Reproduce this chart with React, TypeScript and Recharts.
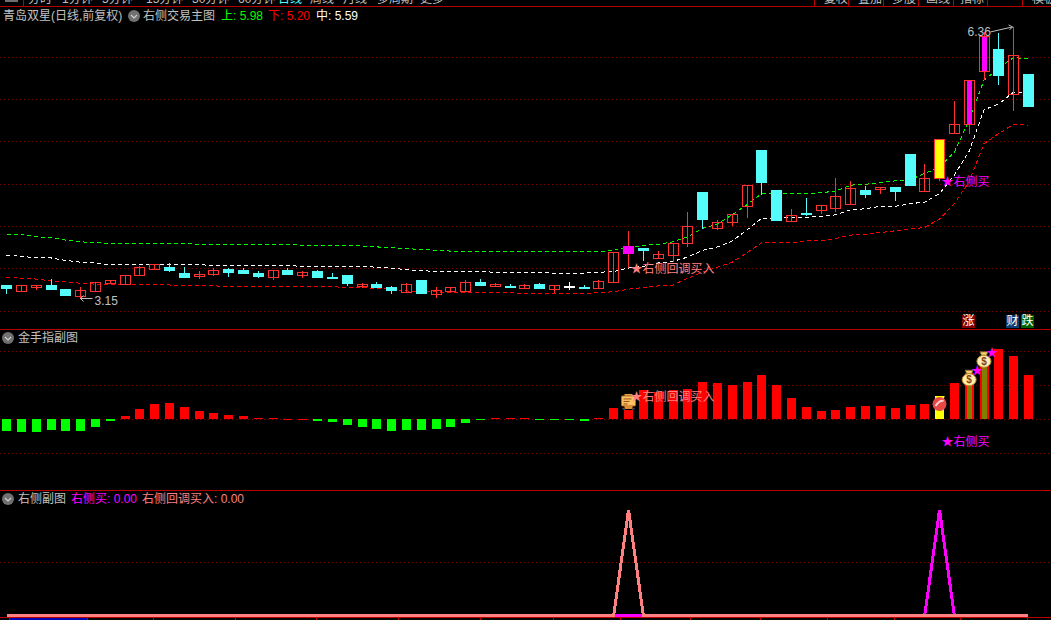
import React from 'react';
import { ComposedChart, Bar, Line, XAxis, YAxis, CartesianGrid, ReferenceDot } from 'recharts';

const opens = [3.31,3.24,3.29,3.31,3.26,3.18,3.24,3.33,3.32,3.43,3.50,3.52,3.45,3.42,3.44,3.50,3.49,3.45,3.40,3.49,3.43,3.47,3.40,3.43,3.30,3.32,3.29,3.23,3.37,3.20,3.24,3.24,3.35,3.30,3.30,3.27,3.32,3.26,3.30,3.29,3.27,3.35,3.69,3.75,3.63,3.66,3.81,4.41,3.98,4.05,4.24,4.91,4.43,4.07,4.16,4.20,4.22,4.27,4.43,4.44,4.47,4.86,4.42,4.57,5.11,5.21,5.84,6.10,5.57,5.80];
const highs = [3.31,3.31,3.31,3.38,3.26,3.29,3.35,3.37,3.43,3.53,3.56,3.57,3.52,3.47,3.51,3.51,3.51,3.47,3.49,3.51,3.47,3.49,3.45,3.43,3.33,3.35,3.30,3.33,3.37,3.29,3.29,3.37,3.38,3.33,3.32,3.32,3.33,3.31,3.35,3.31,3.37,3.70,3.95,3.75,3.71,3.81,4.17,4.41,4.08,4.15,4.49,4.91,4.43,4.21,4.34,4.26,4.57,4.54,4.48,4.47,4.47,4.86,4.74,5.04,5.48,5.73,6.30,6.29,6.36,5.80];
const lows = [3.20,3.24,3.25,3.26,3.18,3.15,3.24,3.32,3.31,3.42,3.50,3.46,3.39,3.38,3.42,3.40,3.44,3.39,3.37,3.44,3.39,3.40,3.38,3.30,3.27,3.27,3.20,3.23,3.20,3.16,3.23,3.24,3.31,3.29,3.27,3.27,3.27,3.21,3.25,3.26,3.27,3.35,3.51,3.59,3.63,3.58,3.76,3.97,3.96,4.01,4.10,4.37,4.08,4.05,4.13,4.15,4.17,4.27,4.34,4.39,4.30,4.49,4.42,4.54,5.11,5.09,5.73,5.67,5.37,5.43];
const closes = [3.27,3.31,3.31,3.26,3.19,3.25,3.35,3.37,3.43,3.52,3.56,3.49,3.40,3.44,3.49,3.46,3.45,3.42,3.49,3.44,3.46,3.40,3.39,3.33,3.32,3.29,3.25,3.32,3.21,3.25,3.29,3.35,3.31,3.32,3.29,3.31,3.27,3.31,3.30,3.28,3.36,3.70,3.77,3.72,3.68,3.81,4.01,4.09,4.05,4.15,4.49,4.53,4.08,4.14,4.15,4.26,4.36,4.46,4.39,4.47,4.42,4.49,4.57,5.04,5.21,5.73,6.25,5.79,6.03,5.43];
const upperBand = [3.91,3.91,3.88,3.87,3.84,3.82,3.81,3.80,3.80,3.80,3.80,3.80,3.80,3.79,3.79,3.79,3.79,3.79,3.79,3.79,3.78,3.78,3.78,3.78,3.77,3.76,3.75,3.74,3.73,3.72,3.71,3.71,3.71,3.70,3.70,3.70,3.70,3.70,3.70,3.70,3.70,3.72,3.75,3.78,3.79,3.82,3.88,3.98,4.03,4.14,4.26,4.39,4.39,4.39,4.39,4.40,4.42,4.49,4.50,4.52,4.54,4.55,4.63,4.70,4.88,5.26,5.73,5.87,6.00,5.98];
const midBand = [3.66,3.65,3.63,3.63,3.60,3.58,3.57,3.55,3.55,3.55,3.55,3.55,3.55,3.55,3.54,3.54,3.54,3.54,3.54,3.54,3.53,3.53,3.53,3.53,3.53,3.52,3.51,3.49,3.48,3.47,3.47,3.47,3.47,3.46,3.46,3.46,3.46,3.45,3.45,3.45,3.46,3.47,3.51,3.53,3.57,3.59,3.64,3.72,3.76,3.83,3.96,4.10,4.10,4.11,4.11,4.12,4.14,4.20,4.21,4.24,4.24,4.27,4.29,4.39,4.61,4.89,5.38,5.45,5.59,5.59];
const lowerBand = [3.40,3.39,3.38,3.36,3.35,3.33,3.32,3.31,3.31,3.31,3.31,3.31,3.30,3.30,3.30,3.29,3.29,3.29,3.29,3.29,3.29,3.29,3.29,3.28,3.28,3.27,3.26,3.24,3.23,3.23,3.22,3.22,3.22,3.22,3.22,3.21,3.21,3.21,3.21,3.21,3.22,3.23,3.26,3.28,3.30,3.31,3.39,3.46,3.52,3.58,3.69,3.81,3.81,3.81,3.83,3.83,3.86,3.90,3.91,3.93,3.95,3.97,3.99,4.09,4.27,4.53,4.98,5.10,5.21,5.20];
const fingerValues = [-0.34,-0.37,-0.37,-0.31,-0.34,-0.34,-0.23,-0.05,0.10,0.30,0.45,0.48,0.36,0.25,0.19,0.13,0.10,0.04,0.04,0.01,0.01,-0.05,-0.08,-0.17,-0.23,-0.28,-0.34,-0.31,-0.31,-0.28,-0.23,-0.11,-0.02,0.04,0.04,0.04,-0.02,-0.02,-0.02,-0.05,0.04,0.33,0.28,0.86,0.80,0.86,0.89,1.10,1.07,1.01,1.10,1.30,1.01,0.63,0.36,0.25,0.27,0.36,0.39,0.39,0.33,0.42,0.45,0.69,1.07,1.35,1.65,2.07,1.86,1.30];
const rightBuy = [0,0,0,0,0,0,0,0,0,0,0,0,0,0,0,0,0,0,0,0,0,0,0,0,0,0,0,0,0,0,0,0,0,0,0,0,0,0,0,0,0,0,0,0,0,0,0,0,0,0,0,0,0,0,0,0,0,0,0,0,0,0,0,1,0,0,0,0,0,0];
const pullbackBuy = [0,0,0,0,0,0,0,0,0,0,0,0,0,0,0,0,0,0,0,0,0,0,0,0,0,0,0,0,0,0,0,0,0,0,0,0,0,0,0,0,0,0,1,0,0,0,0,0,0,0,0,0,0,0,0,0,0,0,0,0,0,0,0,0,0,0,0,0,0,0];
const magentaBodies = [42];
const yellowBodies = [63];
const coreBodies = [65, 66];
const oliveBars = [65, 66];
const yellowBars = [63];
const topTabs = [['分时', 28], ['1分钟', 62], ['5分钟', 102], ['15分钟', 146], ['30分钟', 192], ['60分钟', 238], ['日线', 278], ['周线', 310], ['月线', 343], ['多周期', 377], ['更多', 420]];
const topRightTabs = [['复权', 824], ['叠加', 858], ['多股', 892], ['画线', 926], ['指标', 960], ['模板', 1032]];
const topSeparators = [814, 848, 883, 918, 953, 987, 1022];
const bottomTicks = [9, 87, 153, 235, 316, 398, 480, 553, 620, 690, 760, 827, 894, 960, 1027];

const priceGrid = [3, 3.5, 4, 4.5, 5, 5.5, 6];
const fingerGrid = [-1, 0, 1, 2];
const signalGrid = [0.5];

const rows = closes.map((c, i) => ({
  i,
  range: [lows[i], highs[i]],
  open: opens[i],
  close: c,
  upper: upperBand[i],
  middle: midBand[i],
  lower: lowerBand[i],
  finger: fingerValues[i],
  buy: rightBuy[i],
  pullback: pullbackBuy[i],
}));

const W = 1051;
const XDOMAIN: [number, number] = [-0.439, 70.527];
const CJK = '"Liberation Sans","Noto Sans CJK SC",sans-serif';
const RED = '#ff3232';
const CYAN = '#54fcfc';
const PINK = '#ff8080';
const MAGENTA = '#ff00ff';
const GRID = '#780000';
const BORDER = '#b80000';

function Candle(props: any) {
  const { x, y, width, height, payload } = props;
  const hi = payload.range[1];
  const lo = payload.range[0];
  const k = Math.abs(height) / (hi - lo);
  const py = (p: number) => y + (hi - p) * k;
  const cx = Math.floor(x + width / 2) + 0.5;
  const top = Math.round(py(Math.max(payload.open, payload.close))) + 0.5;
  const bot = Math.round(py(Math.min(payload.open, payload.close))) + 0.5;
  const wt = Math.round(py(hi));
  const wb = Math.round(py(lo));
  const up = payload.close > payload.open;
  const flat = payload.close === payload.open;
  const isMagenta = magentaBodies.includes(payload.i);
  const isYellow = yellowBodies.includes(payload.i);
  const color = flat ? '#ffffff' : up || isMagenta ? RED : CYAN;
  const bodyH = Math.max(bot - top, 0.5);
  let fill = 'none';
  let stroke = color;
  if (!up) fill = color;
  if (isYellow) fill = '#ffff00';
  if (isMagenta) { fill = MAGENTA; stroke = MAGENTA; }
  return (
    <g shapeRendering="crispEdges">
      <line x1={cx} x2={cx} y1={wt} y2={wb} stroke={color} strokeWidth={1} />
      <rect x={cx - 5} y={top} width={10} height={bodyH} fill={up && !isMagenta && !isYellow ? '#000000' : fill} fillOpacity={up && !isMagenta && !isYellow ? 0 : 1} stroke={stroke} />
      {coreBodies.includes(payload.i) && <rect x={cx - 2.5} y={top + 0.5} width={5} height={Math.max(bot - top - 1, 1)} fill={MAGENTA} />}
    </g>
  );
}

function FingerBar(props: any) {
  const { x, y, width, height, payload } = props;
  const v = payload.finger;
  const col = v >= 0 ? '#ff0000' : '#00ff00';
  const h = Math.abs(height);
  const ty = height < 0 ? y + height : y;
  const left = Math.round(x);
  if (yellowBars.includes(payload.i)) return <rect x={left} y={ty} width={width} height={h} fill="#ffff00" shapeRendering="crispEdges" />;
  if (oliveBars.includes(payload.i)) {
    return (
      <g shapeRendering="crispEdges">
        <rect x={left} y={ty} width={width} height={h} fill="#ff0000" />
        <rect x={left + 2} y={ty} width={width - 4} height={h} fill="#808000" />
      </g>
    );
  }
  return <rect x={left} y={ty} width={width} height={Math.max(h, 1)} fill={col} shapeRendering="crispEdges" />;
}

const Label = (text: string, color: string, dx: number, size = 12) => (p: any) => (
  <text x={p.cx + dx} y={p.cy + 5} fill={color} fontSize={size} fontFamily={CJK}>{text}</text>
);

const HighMark = (p: any) => (
  <g>
    <text x={p.cx - 46} y={p.cy + 9} fill="#c0c0c0" fontSize={12} fontFamily={CJK}>6.36</text>
    <polyline points={`${p.cx - 23},${p.cy + 5} ${p.cx - 1},${p.cy} ${p.cx - 5},${p.cy - 2}`} fill="none" stroke="#c0c0c0" />
    <line x1={p.cx - 1} y1={p.cy} x2={p.cx - 4} y2={p.cy + 3} stroke="#c0c0c0" />
  </g>
);
const LowMark = (p: any) => (
  <g>
    <line x1={p.cx} x2={p.cx + 12} y1={p.cy} y2={p.cy} stroke="#c0c0c0" />
    <polyline points={`${p.cx + 3},${p.cy - 3} ${p.cx},${p.cy} ${p.cx + 3},${p.cy + 3}`} fill="none" stroke="#c0c0c0" />
    <text x={p.cx + 14} y={p.cy + 6} fill="#c0c0c0" fontSize={12} fontFamily={CJK}>3.15</text>
  </g>
);
const NoteIcon = (p: any) => {
  const x = p.cx - 7;
  const y = p.cy - 7;
  return (
    <g>
      <rect x={x + 3} y={y - 1} width={8} height={2} fill="#e0a040" />
      <rect x={x} y={y + 1} width={14} height={10} rx={1} fill="#ffc060" stroke="#b06820" />
      <path d={`M${x + 2} ${y + 4}h8M${x + 2} ${y + 6.5}h6M${x + 2} ${y + 9}h4`} stroke="#905020" strokeWidth={1} />
      <rect x={x + 3} y={y + 11} width={8} height={3} fill="#e09030" />
      <path d={`M${x + 1} ${y + 13}l2 2M${x + 13} ${y + 13}l-2 2`} stroke="#4090e0" />
    </g>
  );
};
const BallIcon = (p: any) => (
  <g>
    <rect x={p.cx - 4} y={p.cy - 8} width={9} height={1.5} fill="#ffff00" />
    <circle cx={p.cx} cy={p.cy} r={7} fill="#e84848" />
    <path d={`M${p.cx - 4} ${p.cy + 2}Q${p.cx} ${p.cy - 4} ${p.cx + 4} ${p.cy - 3}`} stroke="#ffd0d0" strokeWidth={2} fill="none" />
  </g>
);
const BagIcon = (p: any) => (
  <g>
    <path d={`M${p.cx - 4} ${p.cy - 8}h8l-1.5 3.5h-5z`} fill="#f0d070" stroke="#806020" strokeWidth={0.8} />
    <ellipse cx={p.cx} cy={p.cy + 1.5} rx={7} ry={6} fill="#ffeeb0" stroke="#c09030" />
    <text x={p.cx} y={p.cy + 5} textAnchor="middle" fill="#884010" fontSize={10} fontWeight="bold" fontFamily={CJK}>$</text>
  </g>
);

function Circle({ x, y }: { x: number; y: number }) {
  return (
    <svg style={{ position: 'absolute', left: x - 6, top: y - 6 }} width={12} height={12}>
      <circle cx={6} cy={6} r={6} fill="#707070" />
      <polyline points="3,5 6,8 9,5" fill="none" stroke="#d0d0d0" strokeWidth={1.2} />
    </svg>
  );
}

function T({ x, y, c, children }: { x: number; y: number; c: string; children: React.ReactNode }) {
  return (
    <span style={{ position: 'absolute', left: x, top: y - 8, height: 16, lineHeight: '16px', fontSize: 12, color: c, fontFamily: CJK, whiteSpace: 'pre' }}>
      {children}
    </span>
  );
}

function Btn({ x, bg, text }: { x: number; bg: string; text: string }) {
  return (
    <span style={{ position: 'absolute', left: x, top: 315, width: 13, height: 13, background: bg, color: '#fff', fontSize: 12, lineHeight: '13px', textAlign: 'center', fontFamily: CJK }}>{text}</span>
  );
}

function Panel({ top, height, domain, grid, children }: any) {
  return (
    <div style={{ position: 'absolute', left: 0, top }}>
      <ComposedChart width={W} height={height} data={rows} margin={{ top: 0, right: 0, bottom: 0, left: 0 }} barGap={0}>
        <XAxis dataKey="i" type="number" domain={XDOMAIN} hide allowDataOverflow />
        <YAxis type="number" domain={domain} hide allowDataOverflow />
        <CartesianGrid vertical={false} horizontal horizontalValues={grid} stroke={GRID} strokeDasharray="1 3" shapeRendering="crispEdges" />
        {children}
      </ComposedChart>
    </div>
  );
}

export default function App() {
  const lineProps = { type: 'linear' as const, dot: false, isAnimationActive: false, strokeWidth: 1, strokeDasharray: '4 3', activeDot: false, zIndex: 200, shapeRendering: 'crispEdges' };
  return (
    <div style={{ position: 'relative', width: W, height: 620, background: '#000', overflow: 'hidden' }}>
      <style>{'html,body{margin:0;padding:0;background:#000;overflow:hidden}'}</style>

      <Panel top={0} height={330} domain={[2.778, 6.678]} grid={priceGrid}>
        <Line {...lineProps} dataKey="upper" stroke="#00ff00" />
        <Line {...lineProps} dataKey="middle" stroke="#ffffff" />
        <Line {...lineProps} dataKey="lower" stroke="#ff0000" />
        <Bar dataKey="range" barSize={11} shape={Candle} isAnimationActive={false} zIndex={300} />
        <ReferenceDot x={42} y={3.51} r={0} shape={Label('★右侧回调买入', PINK, 2)} ifOverflow="visible" zIndex={500} />
        <ReferenceDot x={63} y={4.54} r={0} shape={Label('★右侧买', MAGENTA, 2)} ifOverflow="visible" zIndex={500} />
        <ReferenceDot x={68} y={6.36} r={0} shape={HighMark} ifOverflow="visible" zIndex={500} />
        <ReferenceDot x={5} y={3.15} r={0} shape={LowMark} ifOverflow="visible" zIndex={500} />
      </Panel>

      <Panel top={330} height={160} domain={[-2.079, 2.626]} grid={fingerGrid}>
        <Bar dataKey="finger" barSize={9} shape={FingerBar} isAnimationActive={false} zIndex={300} />
        <ReferenceDot x={42} y={0.51} r={0} shape={NoteIcon} ifOverflow="visible" zIndex={500} />
        <ReferenceDot x={63} y={0.45} r={0} shape={BallIcon} ifOverflow="visible" zIndex={500} />
        <ReferenceDot x={65} y={1.21} r={0} shape={BagIcon} ifOverflow="visible" zIndex={500} />
        <ReferenceDot x={66} y={1.75} r={0} shape={BagIcon} ifOverflow="visible" zIndex={500} />
        <ReferenceDot x={65} y={1.46} r={0} shape={Label('★', MAGENTA, 2)} ifOverflow="visible" zIndex={500} />
        <ReferenceDot x={66} y={1.98} r={0} shape={Label('★', MAGENTA, 2)} ifOverflow="visible" zIndex={500} />
        <ReferenceDot x={42} y={0.685} r={0} shape={Label('★右侧回调买入', PINK, 2)} ifOverflow="visible" zIndex={510} />
        <ReferenceDot x={63} y={-0.64} r={0} shape={Label('★右侧买', MAGENTA, 2)} ifOverflow="visible" zIndex={510} />
      </Panel>

      <Panel top={490} height={130} domain={[-0.0445, 1.1885]} grid={signalGrid}>
        <Line dataKey="buy" type="linear" stroke={MAGENTA} strokeWidth={3} dot={false} activeDot={false} isAnimationActive={false} shapeRendering="crispEdges" />
        <Line dataKey="pullback" type="linear" stroke={PINK} strokeWidth={3} dot={false} activeDot={false} isAnimationActive={false} shapeRendering="crispEdges" />
      </Panel>

      <div style={{ position: 'absolute', left: 0, top: 6, width: W, height: 1, background: BORDER }} />
      <div style={{ position: 'absolute', left: 0, top: 329, width: W, height: 1, background: BORDER }} />
      <div style={{ position: 'absolute', left: 0, top: 490, width: W, height: 1, background: BORDER }} />
      <div style={{ position: 'absolute', left: 0, top: 617, width: W, height: 1, background: BORDER }} />

      <div style={{ position: 'absolute', left: 9, top: 618, width: 78, height: 2, background: '#0000b0' }} />
      {bottomTicks.map((x) => <div key={x} style={{ position: 'absolute', left: x, top: 617, width: 1, height: 3, background: BORDER }} />)}
      {topSeparators.map((x) => <div key={x} style={{ position: 'absolute', left: x, top: 0, width: 1, height: 6, background: BORDER }} />)}
      <div style={{ position: 'absolute', left: 23, top: 0, width: 1, height: 6, background: BORDER }} />
      <div style={{ position: 'absolute', left: 5, top: 0, width: 13, height: 2, background: '#707070' }} />
      <div style={{ position: 'absolute', left: 0, top: 0, width: W, height: 6, overflow: 'hidden' }}>
        {topTabs.map(([t, x]) => (
          <T key={t as string} x={x as number} y={-1} c={t === '日线' ? '#54fcfc' : '#c0c0c0'}>{t}</T>
        ))}
        {topRightTabs.map(([t, x]) => (
          <T key={t as string} x={x as number} y={-1} c="#c0c0c0">{t}</T>
        ))}
      </div>

      <T x={3} y={16} c="#c0c0c0">青岛双星(日线,前复权)</T>
      <Circle x={134} y={16} />
      <T x={143} y={16} c="#c0c0c0">右侧交易主图</T>
      <T x={221} y={16} c="#00ff00">上: 5.98</T>
      <T x={268} y={16} c="#ff0000">下: 5.20</T>
      <T x={316} y={16} c="#ffffff">中: 5.59</T>

      <Circle x={8} y={338} />
      <T x={18} y={338} c="#c0c0c0">金手指副图</T>

      <Circle x={8} y={499} />
      <T x={18} y={499} c="#c0c0c0">右侧副图</T>
      <T x={71} y={499} c={MAGENTA}>右侧买: 0.00</T>
      <T x={142} y={499} c={PINK}>右侧回调买入: 0.00</T>

      <Btn x={962} bg="#800000" text="涨" />
      <Btn x={1006} bg="#0c3c70" text="财" />
      <Btn x={1021} bg="#006000" text="跌" />
    </div>
  );
}
